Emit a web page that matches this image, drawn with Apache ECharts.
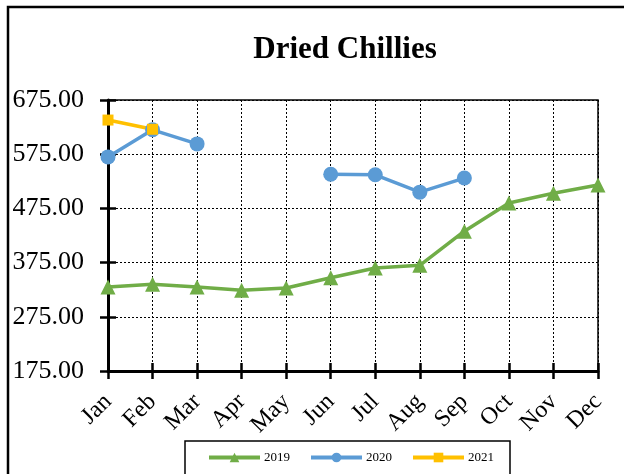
<!DOCTYPE html>
<html>
<head>
<meta charset="utf-8">
<script src="https://cdn.jsdelivr.net/npm/echarts@6/dist/echarts.min.js"></script>
<style>html,body{margin:0;padding:0;background:#fff}#c{width:624px;height:474px}</style>
</head>
<body>
<div id="c"></div>
<script>
const months = ['Jan','Feb','Mar','Apr','May','Jun','Jul','Aug','Sep','Oct','Nov','Dec'];
const s2019 = [330, 335, 330, 324, 328, 347, 365, 370, 433, 485, 503, 518];
const s2020 = [570, 620, 594, null, null, 538, 537, 505, 531, null, null, null];
const s2021 = [638, 621, null, null, null, null, null, null, null, null, null, null];
const yMin = 175, yMax = 675, yStep = 100;

const font = 'Liberation Serif, Times New Roman, serif';
const chart = echarts.init(document.getElementById('c'), null, {renderer: 'canvas'});
const dotted = {show: true, lineStyle: {color: '#000', type: [2, 2], width: 1}};
chart.setOption({
  animation: false,
  title: {text: 'Dried Chillies', left: 340, top: 29, textAlign: 'center',
    textStyle: {fontFamily: font, fontWeight: 'bold', fontSize: 31, color: '#000'}},
  graphic: [{type: 'rect', shape: {x: 8, y: 7, width: 700, height: 600},
    style: {fill: 'none', stroke: '#000', lineWidth: 2.5}, silent: true}],
  grid: {left: 108, right: 26, top: 100, bottom: 103, show: true,
    borderColor: '#000', borderWidth: 1.5, backgroundColor: 'transparent'},
  legend: {left: 185, top: 441,
    data: ['2019', '2020', '2021'],
    itemWidth: 51, itemHeight: 12, itemGap: 19,
    padding: [10, 16, 14, 22],
    borderColor: '#000', borderWidth: 1.5,
    lineStyle: {width: 4},
    textStyle: {fontFamily: font, fontSize: 13, color: '#000', padding: [0, 0, 0, -1]}},
  xAxis: [{type: 'category', data: months, boundaryGap: false,
    axisLine: {lineStyle: {color: '#000', width: 3}},
    axisTick: {show: true, length: 8, lineStyle: {color: '#000', width: 2.5}},
    axisLabel: {rotate: 45, margin: 27, fontFamily: font, fontSize: 24, color: '#000', interval: 0},
    splitLine: dotted},
   {type: 'category', data: months, boundaryGap: false, position: 'bottom',
    axisLine: {show: false}, axisLabel: {show: false}, splitLine: {show: false},
    axisTick: {show: true, inside: true, length: 8, lineStyle: {color: '#000', width: 2.5}}}],
  yAxis: [{type: 'value', min: yMin, max: yMax, interval: yStep,
    axisLine: {show: true, lineStyle: {color: '#000', width: 3}},
    axisTick: {show: true, length: 8, lineStyle: {color: '#000', width: 2.5}},
    axisLabel: {margin: 24, fontFamily: font, fontSize: 26, color: '#000',
      formatter: v => v.toFixed(2)},
    splitLine: dotted},
   {type: 'value', min: yMin, max: yMax, interval: yStep, position: 'left',
    axisLine: {show: false}, axisLabel: {show: false}, splitLine: {show: false},
    axisTick: {show: true, inside: true, length: 8, lineStyle: {color: '#000', width: 2.5}}}],
  series: [
    {name: '2019', type: 'line', data: s2019, symbol: 'triangle', symbolSize: 15,
      itemStyle: {color: '#70AD47'}, lineStyle: {color: '#70AD47', width: 3.5}},
    {name: '2020', type: 'line', data: s2020, symbol: 'circle', symbolSize: 15,
      itemStyle: {color: '#5B9BD5'}, lineStyle: {color: '#5B9BD5', width: 3.5}},
    {name: '2021', type: 'line', data: s2021, symbol: 'rect', symbolSize: 11,
      itemStyle: {color: '#FFC000'}, lineStyle: {color: '#FFC000', width: 3.5}}
  ]
});
</script>
</body>
</html>
